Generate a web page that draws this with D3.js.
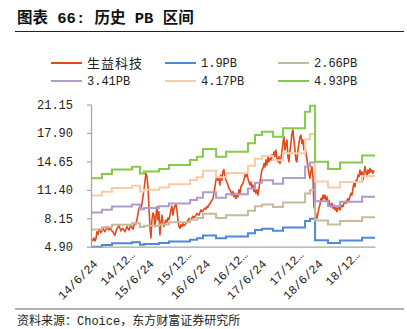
<!DOCTYPE html>
<html>
<head>
<meta charset="utf-8">
<script src="https://cdn.jsdelivr.net/npm/d3@7"></script>
<style>
  body { margin: 0; background: #fff; }
  svg { display: block; }
</style>
</head>
<body>
<svg id="chart" width="407" height="329"></svg>
<script>
// Share price, sampled roughly every 6.5 calendar days from the first date
const priceFirst = "2014-06-30";
const priceStepDays = 6.493;
const price = [
  5.75,5.6,5.9,5.55,5.8,6.6,6.3,6.8,6.9,6.5,
  6.7,7.0,6.8,6.6,6.9,7.2,7.0,6.8,7.1,6.9,
  6.7,6.6,6.4,6.2,6.6,7.0,7.1,7.3,7.0,6.7,
  6.9,7.0,6.8,6.6,6.9,7.2,7.0,6.8,7.1,7.3,
  7.1,6.9,7.3,7.6,7.5,8.0,8.6,9.2,9.6,9.3,
  9.8,10.6,11.4,12.3,13.3,12.9,11.8,9.5,7.2,5.9,
  7.95,8.75,8.5,7.2,8.3,9.5,7.95,8.9,6.25,7.6,
  8.5,7.7,7.2,7.6,7.95,7.7,8.2,8.0,8.5,9.1,
  9.55,8.5,9.2,9.55,9.8,9.1,7.95,7.2,7.0,7.4,
  7.2,7.55,7.3,7.4,7.6,7.7,7.9,8.15,8.0,7.95,
  8.2,8.4,8.2,8.35,8.5,8.7,8.6,8.5,8.8,9.1,
  8.9,9.0,9.2,9.3,9.2,9.5,9.4,9.7,9.8,10.05,
  10.2,10.4,11.0,11.75,12.5,12.9,12.5,12.7,11.95,13.1,
  12.5,13.5,13.7,12.9,12.5,12.3,11.95,11.55,11.4,11.2,
  10.8,11.2,10.6,11.0,10.4,10.8,10.6,11.4,11.0,11.75,
  11.95,12.15,12.5,13.1,12.9,13.3,12.7,12.3,11.95,12.3,
  11.55,11.95,11.2,11.4,11.0,11.4,10.8,11.55,12.3,12.9,
  13.7,13.85,14.4,14.0,14.8,14.25,15.2,14.6,15.0,14.8,
  15.4,15.0,15.75,15.2,15.95,15.0,14.6,15.2,14.4,15.0,
  15.75,16.7,17.45,15.95,16.6,17.1,15.2,14.6,15.8,16.7,
  17.85,18.25,17.1,15.95,14.8,14.6,15.95,16.7,17.45,17.65,
  16.7,17.1,15.95,16.5,15.55,15.0,14.05,13.3,12.7,13.5,
  14.05,13.0,9.5,9.1,8.5,8.15,8.7,9.3,9.7,10.4,
  10.2,10.8,10.4,10.8,10.2,10.6,9.85,10.2,9.65,9.45,
  9.85,9.3,9.65,9.1,9.45,8.9,9.3,9.45,9.1,9.45,
  9.65,9.45,9.85,10.05,9.85,10.2,10.4,10.2,10.6,11.0,
  10.8,11.55,12.15,11.75,12.5,12.3,13.1,12.9,13.65,13.1,
  13.45,12.5,13.3,14.05,13.45,12.9,13.65,13.3,13.85,13.45,
  13.65,13.3,13.6
];

// Book value per share, changing on report dates (step series)
const bvpsDates = [
  "2014-06-24","2014-09-03","2014-11-07","2015-03-17","2015-05-08","2015-06-03",
  "2015-09-09","2015-11-12","2016-03-28","2016-05-12","2016-06-20","2016-09-13",
  "2016-11-17","2017-04-08","2017-05-24","2017-07-08","2017-09-18","2017-11-22",
  "2018-04-14","2018-05-16","2018-06-18","2018-09-10","2018-11-27","2019-04-19"
];
const bvpsValues = [
  2.580,2.679,2.784,2.848,2.691,2.737,
  2.795,2.888,3.004,3.080,3.259,3.080,
  3.196,3.391,3.583,3.660,3.544,3.739,
  4.123,4.262,2.964,2.795,2.946,3.110
];
const axisStart = "2014-06-24";
const axisEnd = "2019-07-12";

const pbMultiples = [1.9, 2.66, 3.41, 4.17, 4.93];
const seriesNames = ["生益科技", "1.9PB", "2.66PB", "3.41PB", "4.17PB", "4.93PB"];
const seriesColors = ["#E2491B", "#4F88D6", "#C5BB9A", "#AF9CCB", "#FACBA7", "#85CB47"];

const yTicks = [4.90, 8.15, 11.40, 14.65, 17.90, 21.15];
const xTickDates = [
  "2014-06-24","2014-12-24","2015-06-24","2015-12-24","2016-06-24",
  "2016-12-24","2017-06-24","2017-12-24","2018-06-24","2018-12-24"
];
const xTickLabels = [
  "14/6/24","14/12…","15/6/24","15/12…","16/6/24",
  "16/12…","17/6/24","17/12…","18/6/24","18/12…"
];

const titleText = "图表 66: 历史 PB 区间";
const sourceText = "资料来源：Choice，东方财富证券研究所";

// ---- drawing ----
const parse = d3.timeParse("%Y-%m-%d");
const latin = "'Liberation Mono', 'Noto Sans CJK SC', monospace";
const cjk = "'Noto Sans CJK SC', 'Liberation Mono', sans-serif";
const axisGrey = "#A6A6A6";
const textColor = "#222";

const svg = d3.select("#chart");
svg.append("rect").attr("width", 407).attr("height", 329).attr("fill", "#fff");

const x = d3.scaleTime()
  .domain([parse(axisStart), parse(axisEnd)])
  .range([91, 375]);
const y = d3.scaleLinear()
  .domain([4.9, 21.15])
  .range([246.7, 104.5]);

// Title and rules
svg.append("text")
  .attr("x", 17).attr("y", 23)
  .attr("font-family", latin)
  .attr("font-size", 15.5).attr("font-weight", "bold")
  .attr("fill", "#111")
  .text(titleText);
svg.append("line")
  .attr("x1", 15).attr("x2", 404).attr("y1", 31.5).attr("y2", 31.5)
  .attr("stroke", "#222").attr("stroke-width", 1);
svg.append("line")
  .attr("x1", 15).attr("x2", 404).attr("y1", 309).attr("y2", 309)
  .attr("stroke", "#9a9a9a").attr("stroke-width", 1.6);
svg.append("text")
  .attr("x", 17).attr("y", 325)
  .attr("font-family", latin)
  .attr("font-size", 12)
  .attr("fill", textColor)
  .text(sourceText);

// Series data
const t0 = parse(priceFirst);
const priceData = price.map((v, i) => ({
  date: new Date(t0.getTime() + i * priceStepDays * 864e5),
  value: v
}));
const bvps = bvpsDates.map((d, i) => ({ date: parse(d), value: bvpsValues[i] }));
bvps.push({ date: parse(axisEnd), value: bvpsValues[bvpsValues.length - 1] });

const priceLine = d3.line()
  .x(d => x(d.date)).y(d => y(d.value));
const bandLine = m => d3.line()
  .curve(d3.curveStepAfter)
  .x(d => x(d.date)).y(d => y(d.value * m));

const plot = svg.append("g");
plot.append("path")
  .datum(priceData)
  .attr("d", priceLine)
  .attr("fill", "none")
  .attr("stroke", seriesColors[0])
  .attr("stroke-width", 1.6)
  .attr("stroke-linejoin", "round");

pbMultiples.forEach((m, i) => {
  plot.append("path")
    .datum(bvps)
    .attr("d", bandLine(m))
    .attr("fill", "none")
    .attr("stroke", seriesColors[i + 1])
    .attr("stroke-width", 2);
});

// Axes
const yAxis = svg.append("g")
  .attr("transform", "translate(91,0)")
  .call(d3.axisLeft(y).tickValues(yTicks).tickFormat(d3.format(".2f"))
    .tickSize(4).tickSizeOuter(0).tickPadding(14));
yAxis.select(".domain").attr("stroke", axisGrey).attr("stroke-width", 1.3);
yAxis.selectAll(".tick line").attr("stroke", axisGrey).attr("stroke-width", 1.2);
yAxis.selectAll(".tick text")
  .attr("font-family", latin).attr("font-size", 12).attr("fill", textColor);

const xAxis = svg.append("g")
  .attr("transform", `translate(0,${y(4.9)})`)
  .call(d3.axisBottom(x)
    .tickValues(xTickDates.map(parse))
    .tickFormat((d, i) => xTickLabels[i])
    .tickSize(0).tickSizeOuter(0));
xAxis.select(".domain").attr("stroke", axisGrey).attr("stroke-width", 1.3);
xAxis.selectAll(".tick text")
  .attr("font-family", latin).attr("font-size", 12).attr("fill", textColor)
  .attr("text-anchor", "end")
  .attr("x", 0).attr("y", 0).attr("dy", "0.35em")
  .attr("transform", (d, i) => xTickLabels[i].includes("…")
    ? "translate(13,6) rotate(-45)"
    : "translate(4,15) rotate(-45)");

// Legend
const legendPos = [[51, 63], [165, 63], [278, 63], [51, 81], [165, 81], [278, 81]];
const legend = svg.append("g");
seriesNames.forEach((name, i) => {
  const [lx, ly] = legendPos[i];
  legend.append("line")
    .attr("x1", lx).attr("x2", lx + 31).attr("y1", ly).attr("y2", ly)
    .attr("stroke", seriesColors[i]).attr("stroke-width", 2);
  const isCjk = /[\u4e00-\u9fff]/.test(name);
  legend.append("text")
    .attr("x", lx + 36).attr("y", ly).attr("dy", "0.36em")
    .attr("font-family", isCjk ? cjk : latin)
    .attr("font-size", isCjk ? 13 : 12)
    .attr("letter-spacing", isCjk ? 1 : 0)
    .attr("fill", textColor)
    .text(name);
});
</script>
</body>
</html>
